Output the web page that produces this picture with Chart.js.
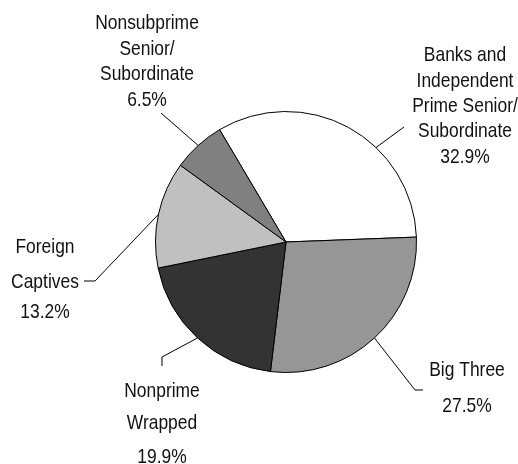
<!DOCTYPE html>
<html>
<head>
<meta charset="utf-8">
<script src="https://cdn.jsdelivr.net/npm/chart.js@4/dist/chart.umd.min.js"></script>
<style>
  html, body { margin: 0; padding: 0; background: #fff; }
  canvas { display: block; }
</style>
</head>
<body>
<canvas id="pieChart" width="518" height="464"></canvas>
<script>
// chart data
const categories = [
  'Banks and Independent Prime Senior/Subordinate',
  'Big Three',
  'Nonprime Wrapped',
  'Foreign Captives',
  'Nonsubprime Senior/Subordinate'
];
const shares = [32.9, 27.5, 19.9, 13.2, 6.5];
const labelLines = [
  ['Banks and', 'Independent', 'Prime Senior/', 'Subordinate'],
  ['Big Three'],
  ['Nonprime', 'Wrapped'],
  ['Foreign', 'Captives'],
  ['Nonsubprime', 'Senior/', 'Subordinate']
];
const sliceColors = ['#ffffff', '#969696', '#333333', '#c0c0c0', '#808080'];

// where each label sits and how its leader line bends
const labelLayout = [
  { cx: 465, ys: [61, 87, 112, 137, 163], leader: [[404, 127]], angleShift: 15 },
  { cx: 467, ys: [376, 412], leader: [[415, 390], [423, 390]], angleShift: 0 },
  { cx: 162, ys: [397, 429, 463], leader: [[162, 357], [162, 366]], angleShift: 0 },
  { cx: 45, ys: [253, 288, 318], leader: [[95, 281], [84, 281]], angleShift: 0 },
  { cx: 147, ys: [29, 55, 80, 106], leader: [[161, 113]], angleShift: 0 }
];

const calloutPlugin = {
  id: 'callouts',
  afterDraw(chart) {
    const ctx = chart.ctx;
    const arcs = chart.getDatasetMeta(0).data;
    ctx.save();
    ctx.strokeStyle = '#000';
    ctx.lineWidth = 1;
    arcs.forEach((arc, i) => {
      const p = arc.getProps(['x', 'y', 'startAngle', 'endAngle', 'outerRadius'], true);
      const lay = labelLayout[i];
      const a = (p.startAngle + p.endAngle) / 2 + lay.angleShift * Math.PI / 180;
      ctx.beginPath();
      ctx.moveTo(p.x + Math.cos(a) * p.outerRadius, p.y + Math.sin(a) * p.outerRadius);
      lay.leader.forEach(pt => ctx.lineTo(pt[0], pt[1]));
      ctx.stroke();

      const lines = labelLines[i].concat([shares[i].toFixed(1) + '%']);
      ctx.fillStyle = '#111';
      ctx.font = '21px "Liberation Sans", Arial, sans-serif';
      ctx.textAlign = 'center';
      ctx.textBaseline = 'alphabetic';
      lines.forEach((txt, k) => {
        ctx.save();
        ctx.translate(lay.cx, lay.ys[k]);
        ctx.scale(0.83, 1);
        ctx.fillText(txt, 0, 0);
        ctx.restore();
      });
    });
    ctx.restore();
  }
};

new Chart(document.getElementById('pieChart').getContext('2d'), {
  type: 'pie',
  data: {
    labels: categories,
    datasets: [{
      data: shares,
      backgroundColor: sliceColors,
      borderColor: '#000',
      borderWidth: 1
    }]
  },
  options: {
    responsive: false,
    animation: false,
    rotation: -30.6,
    layout: { padding: { left: 155, right: 101, top: 111, bottom: 91 } },
    plugins: {
      legend: { display: false },
      tooltip: { enabled: false }
    }
  },
  plugins: [calloutPlugin]
});
</script>
</body>
</html>
